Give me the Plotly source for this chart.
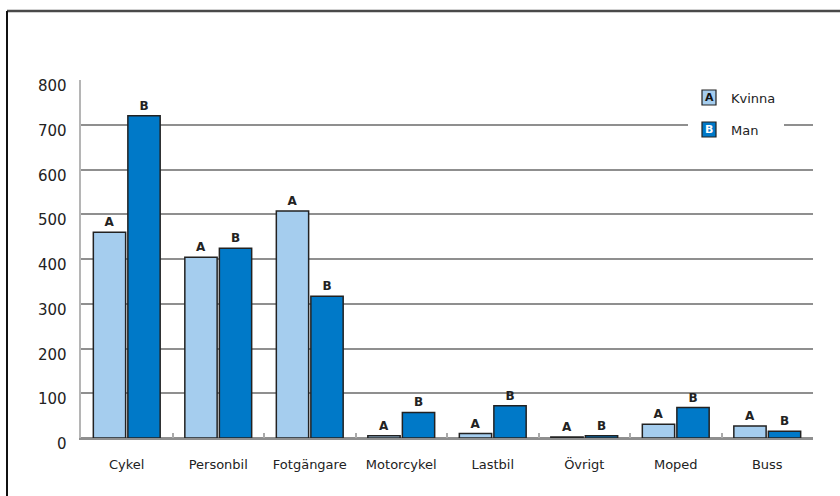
import plotly.graph_objects as go

categories = ["Cykel", "Personbil", "Fotgängare", "Motorcykel", "Lastbil", "Övrigt", "Moped", "Buss"]
kvinna = [460, 404, 507, 5, 10, 2, 31, 27]
man = [720, 424, 317, 57, 72, 5, 68, 15]
y_ticks = [0, 100, 200, 300, 400, 500, 600, 700, 800]

LIGHT = "#A5CDEE"
DARK = "#0079C8"
OUTLINE = "#222222"
GRID = "#8f8f8f"
FONT = "DejaVu Sans"

fig = go.Figure()
fig.add_trace(go.Bar(
    x=categories, y=kvinna, name="Kvinna",
    marker=dict(color=LIGHT, line=dict(color=OUTLINE, width=1.5)),
    text=["<b>A</b>"] * len(categories), textposition="outside", constraintext="none",
    textfont=dict(family=FONT, size=12, color="#222222"),
    cliponaxis=False,
))
fig.add_trace(go.Bar(
    x=categories, y=man, name="Man",
    marker=dict(color=DARK, line=dict(color=OUTLINE, width=1.5)),
    text=["<b>B</b>"] * len(categories), textposition="outside", constraintext="none",
    textfont=dict(family=FONT, size=12, color="#222222"),
    cliponaxis=False,
))

L, T, R, B = 81, 80, 27, 58
W, H = 840, 496
pw, ph = W - L - R, H - T - B


def px(x):
    return (x - L) / pw


def py(y):
    return 1 - (y - T) / ph


shapes = [
    # outer frame (top and left visible)
    dict(type="line", xref="paper", yref="paper", x0=px(7), x1=px(900), y0=py(11), y1=py(11),
         line=dict(color="#4a4a4a", width=2.5)),
    dict(type="line", xref="paper", yref="paper", x0=px(7), x1=px(7), y0=py(11), y1=py(600),
         line=dict(color="#111111", width=2)),
    # legend background
    dict(type="rect", xref="paper", yref="paper", x0=px(688), x1=px(784), y0=py(84), y1=py(142),
         fillcolor="white", line=dict(width=0), layer="above"),
    # legend swatches
    dict(type="rect", xref="paper", yref="paper", x0=px(702), x1=px(716), y0=py(90), y1=py(105),
         fillcolor=LIGHT, line=dict(color=OUTLINE, width=1.2), layer="above"),
    dict(type="rect", xref="paper", yref="paper", x0=px(702), x1=px(716), y0=py(122), y1=py(137),
         fillcolor=DARK, line=dict(color=OUTLINE, width=1.2), layer="above"),
]

annotations = [
    dict(xref="paper", yref="paper", x=px(709), y=py(97.5), text="<b>A</b>", showarrow=False,
         font=dict(family=FONT, size=11, color="#111111"), xanchor="center", yanchor="middle"),
    dict(xref="paper", yref="paper", x=px(709), y=py(129.5), text="<b>B</b>", showarrow=False,
         font=dict(family=FONT, size=11, color="white"), xanchor="center", yanchor="middle"),
    dict(xref="paper", yref="paper", x=px(729), y=py(98), text="Kvinna", showarrow=False,
         font=dict(family=FONT, size=13, color="#222222"), xanchor="left", yanchor="middle"),
    dict(xref="paper", yref="paper", x=px(729), y=py(130), text="Man", showarrow=False,
         font=dict(family=FONT, size=13, color="#222222"), xanchor="left", yanchor="middle"),
]

# y tick labels, placed on the y scale but sitting slightly below their gridlines
for v in y_ticks:
    annotations.append(dict(
        xref="paper", yref="y", x=px(69), y=v, yshift=-6, text=str(v), showarrow=False,
        font=dict(family=FONT, size=15, color="#222222"), xanchor="right", yanchor="middle",
    ))

fig.update_layout(
    width=W, height=H,
    margin=dict(l=L, r=R, t=T, b=B, autoexpand=False),
    paper_bgcolor="white", plot_bgcolor="white",
    barmode="group", bargap=0.245, bargroupgap=0.065,
    showlegend=False,
    font=dict(family=FONT, color="#222222"),
    shapes=shapes, annotations=annotations,
    xaxis=dict(
        showgrid=False, showline=True, linecolor=GRID, linewidth=1.5,
        ticks="inside", tickson="boundaries", ticklen=5, tickcolor="#aaaaaa", tickwidth=1.5,
        tickfont=dict(family=FONT, size=13, color="#222222"), ticklabelstandoff=14,
    ),
    yaxis=dict(
        range=[0, 800], tickvals=y_ticks, showticklabels=False,
        showgrid=True, gridcolor=GRID, gridwidth=1.5,
        zeroline=True, zerolinecolor=GRID, zerolinewidth=1.5,
        showline=True, linecolor="#b5b5b5", linewidth=2,
        ticks="",
    ),
)

fig.write_html(
    "out.html",
    config={"displayModeBar": False},
    post_script="document.body.style.margin='0px';document.body.style.overflow='hidden';",
)
